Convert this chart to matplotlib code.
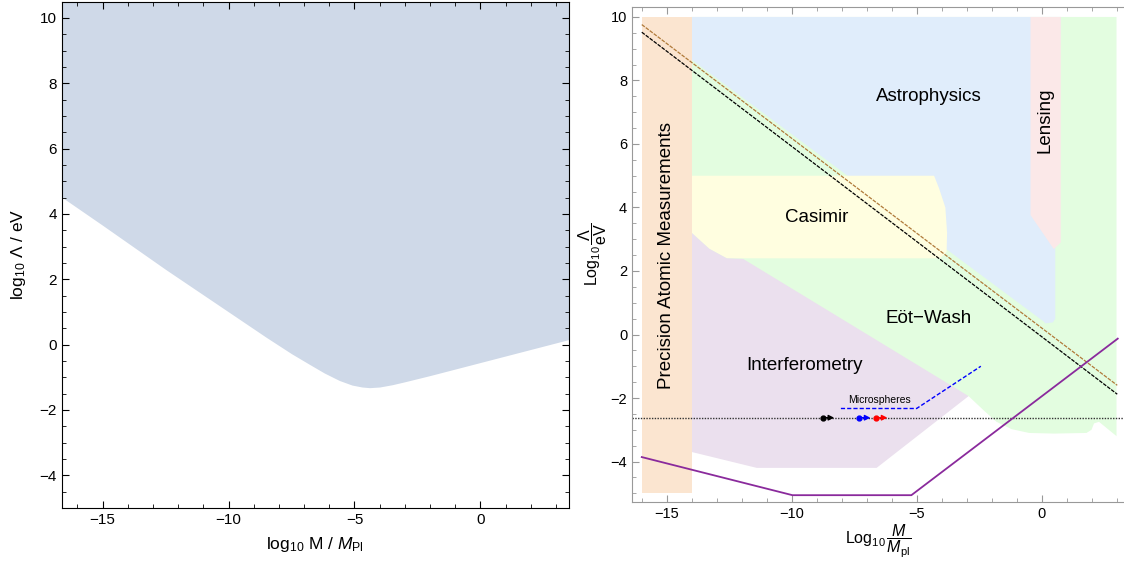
import numpy as np
import matplotlib.pyplot as plt
from matplotlib.ticker import MultipleLocator

plt.rcParams['font.family'] = ['Liberation Sans', 'DejaVu Sans']
plt.rcParams['mathtext.fontset'] = 'custom'
plt.rcParams['mathtext.rm'] = 'Liberation Sans'
plt.rcParams['mathtext.it'] = 'Liberation Sans:italic'

# left panel: lower edge of the allowed region
left_x = [-16.6, -15, -12.5, -10, -8.5, -7.5, -6.8, -6.2, -5.6, -5.1, -4.7, -4.4, -4.0, -3.5, -3, -2, -1, 0, 1, 2, 3.5]
left_y = [4.5, 3.65, 2.3, 1.0, 0.22, -0.28, -0.6, -0.87, -1.1, -1.24, -1.3, -1.32, -1.3, -1.23, -1.14, -0.95, -0.75, -0.55, -0.35, -0.15, 0.15]

# right panel: excluded regions (log10 M/Mpl, log10 Lambda/eV)
precision_x = [-16, -14, -14, -16]
precision_y = [-5, -5, 10, 10]

eotwash_x = [-14, 3.0, 3.0, 2.3, 2.1, 2.0, 1.8, 0.5, -0.5, -1.2, -1.8, -2.3, -2.92, -14]
eotwash_y = [10, 10, -3.2, -2.75, -2.8, -3.0, -3.1, -3.12, -3.1, -2.98, -2.75, -2.4, -1.94, -1.94]

astro_x = [-14, 0.77, 0.55, 0.55, 0.45, 0.15, 0.1, -14]
astro_y = [10, 10, 2.7, 0.5, 0.38, 0.35, 0.4, 8.65]

casimir_x = [-14, -4.3, -4.1, -3.85, -3.78, -3.8, -4.05, -12.6, -13.3, -14]
casimir_y = [5, 5, 4.6, 4.0, 3.2, 2.6, 2.4, 2.4, 2.7, 3.2]

interf_x = [-14, -13.3, -12.6, -11.94, -2.92, -6.6, -11.4, -14]
interf_y = [3.2, 2.7, 2.4, 2.38, -1.94, -4.2, -4.2, -3.7]

lensing_x = [-0.44, 0.77, 0.77, 0.49, -0.44]
lensing_y = [10, 10, 2.9, 2.69, 3.76]

# constraint lines
black_x = [-16, 3.03]
black_y = [9.52, -1.88]
brown_x = [-16, 3.03]
brown_y = [9.76, -1.6]
purple_x = [-16, -9.97, -5.21, 3.05]
purple_y = [-3.86, -5.06, -5.06, -0.13]
micro_x = [-8.03, -5.0, -2.43]
micro_y = [-2.33, -2.33, -1.0]
dotted_y = -2.62

# points with arrows on the dotted line: (start, end, colour)
pts_start = [-8.75, -7.3, -6.62]
pts_end = [-8.3, -6.85, -6.17]
pts_col = ['black', 'blue', 'red']

fig = plt.figure(figsize=(11.24, 5.62), dpi=100)

#左图
ax1 = fig.add_axes([0.055, 0.0963, 0.451, 0.901])
ax1.fill_between(left_x, left_y, 10.5, color='#cfd9e8', lw=0)
ax1.set_xlim(-16.62, 3.51)
ax1.set_ylim(-5, 10.5)
ax1.xaxis.set_major_locator(MultipleLocator(5))
ax1.xaxis.set_minor_locator(MultipleLocator(1))
ax1.yaxis.set_major_locator(MultipleLocator(2))
ax1.yaxis.set_minor_locator(MultipleLocator(0.5))
ax1.tick_params(which='both', direction='in', top=True, right=True, labelsize=11)
ax1.tick_params(which='major', length=5)
ax1.tick_params(which='minor', length=3)
ax1.set_xlabel(r'log$_{10}$ M / $M_{\rm Pl}$', fontsize=12.5, labelpad=6)
ax1.set_ylabel(r'log$_{10}$ $\Lambda$ / eV', fontsize=12.5, labelpad=8)

#右图
ax2 = fig.add_axes([0.5623, 0.1059, 0.4377, 0.882])
ax2.fill(eotwash_x, eotwash_y, color='#e3fde0', lw=0)
ax2.fill(astro_x, astro_y, color='#e0edfb', lw=0)
ax2.fill(casimir_x, casimir_y, color='#fffee0', lw=0)
ax2.fill(interf_x, interf_y, color='#ebe0ee', lw=0)
ax2.fill(lensing_x, lensing_y, color='#fbe8e8', lw=0)
ax2.fill(precision_x, precision_y, color='#fbe5d0', lw=0)

ax2.axhline(dotted_y, color='#333333', ls=(0, (1, 1)), lw=1)
ax2.plot(brown_x, brown_y, color='#b07a3a', ls=(0, (3, 1)), lw=0.9)
ax2.plot(black_x, black_y, color='black', ls=(0, (3, 1)), lw=0.9)
ax2.plot(purple_x, purple_y, color='#8a2a9c', lw=1.3)
ax2.plot(micro_x, micro_y, color='blue', ls=(0, (3, 1.5)), lw=1)
for s, e, c in zip(pts_start, pts_end, pts_col):
    ax2.annotate('', xy=(e, dotted_y), xytext=(s, dotted_y),
                 arrowprops=dict(arrowstyle='-|>', color=c, lw=1, mutation_scale=8,
                                 shrinkA=0, shrinkB=0))
    ax2.plot(s, dotted_y, 'o', color=c, ms=3.5)

ax2.text(-4.5, 7.5, 'Astrophysics', fontsize=13.5, ha='center', va='center')
ax2.text(-9.0, 3.7, 'Casimir', fontsize=13.5, ha='center', va='center')
ax2.text(-4.5, 0.5, 'E\u00f6t\u2212Wash', fontsize=13.5, ha='center', va='center')
ax2.text(-9.5, -0.98, 'Interferometry', fontsize=13.5, ha='center', va='center')
ax2.text(-15.0, 2.5, 'Precision Atomic Measurements', fontsize=13.5,
         rotation=90, ha='center', va='center')
ax2.text(0.13, 6.75, 'Lensing', fontsize=13.5, rotation=90, ha='center', va='center')
ax2.text(-6.5, -2.05, 'Microspheres', fontsize=7.5, ha='center', va='center')

ax2.set_xlim(-16.39, 3.3)
ax2.set_ylim(-5.29, 10.32)
ax2.xaxis.set_major_locator(MultipleLocator(5))
ax2.xaxis.set_minor_locator(MultipleLocator(1))
ax2.yaxis.set_major_locator(MultipleLocator(2))
ax2.yaxis.set_minor_locator(MultipleLocator(0.5))
ax2.tick_params(which='both', direction='in', top=True, labelsize=10.5, color='#999999')
ax2.tick_params(which='major', length=5)
ax2.tick_params(which='minor', length=3)
for sp in ['left', 'bottom', 'top']:
    ax2.spines[sp].set_color('#999999')
ax2.spines['right'].set_visible(False)
ax2.set_xlabel(r'Log$_{10}\,\dfrac{M}{M_{\rm pl}}$', fontsize=11.5, labelpad=1)
ax2.set_ylabel(r'Log$_{10}\,\dfrac{\Lambda}{\rm eV}$', fontsize=11.5, labelpad=1)

plt.savefig('out.png', dpi=100)
